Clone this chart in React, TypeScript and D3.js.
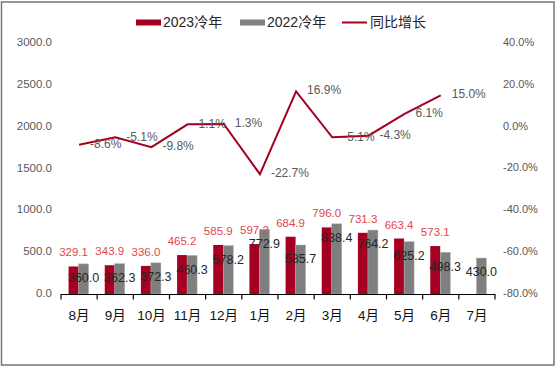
import React from 'react';
import * as d3 from 'd3';

const months = ['8月', '9月', '10月', '11月', '12月', '1月', '2月', '3月', '4月', '5月', '6月', '7月'];
const vol2023: (number | null)[] = [329.1, 343.9, 336.0, 465.2, 585.9, 597.2, 684.9, 796.0, 731.3, 663.4, 573.1, null];
const vol2022: number[] = [360.0, 362.3, 372.3, 460.3, 578.2, 772.9, 585.7, 838.4, 764.2, 625.2, 498.3, 430.0];
const yoy: (number | null)[] = [-8.6, -5.1, -9.8, 1.1, 1.3, -22.7, 16.9, -5.1, -4.3, 6.1, 15.0, null];
const leftTicks = [0, 500, 1000, 1500, 2000, 2500, 3000];
const rightTicks = [-80, -60, -40, -20, 0, 20, 40];
const legendLabels = ['2023冷年', '2022冷年', '同比增长'];

const RED = '#a50021';
const GRAY = '#7f7f7f';
const LABEL_RED = '#e0474c';
const FONT = '"Liberation Sans", Arial, "Noto Sans CJK SC", sans-serif';

const fmt = (v: number) => d3.format('.1f')(v).replace('\u2212', '-');

export default function App() {
  const W = 559, H = 368;
  const x = d3.scaleBand<string>().domain(months).range([61, 495]).padding(0);
  const yL = d3.scaleLinear().domain([0, 3000]).range([294, 43]);
  const yR = d3.scaleLinear().domain([-80, 40]).range([294, 43]);
  const bw = 10;
  const cx = (m: string) => (x(m) as number) + x.bandwidth() / 2;

  const linePts = months
    .map((m, i) => ({ m, v: yoy[i] }))
    .filter(d => d.v !== null) as { m: string; v: number }[];
  const line = d3.line<{ m: string; v: number }>().x(d => cx(d.m)).y(d => yR(d.v));

  const boundaries = months.map(m => x(m) as number).concat([495]);

  return (
    <svg width={W} height={H} style={{ position: 'fixed', left: 0, top: 0 }} fontFamily={FONT}>
      <rect x={0} y={0} width={W} height={H} fill="#fff" />
      <rect x={1.5} y={2} width={552.5} height={363} fill="none" stroke="#767676" strokeWidth={1.5} />

      {/* legend */}
      <rect x={136} y={19.5} width={25} height={6} fill={RED} />
      <text x={163} y={23} fontSize={14} dominantBaseline="middle" fill="#262626">{legendLabels[0]}</text>
      <rect x={240} y={19.5} width={25} height={6} fill={GRAY} />
      <text x={267} y={23} fontSize={14} dominantBaseline="middle" fill="#262626">{legendLabels[1]}</text>
      <line x1={342} x2={367} y1={22.5} y2={22.5} stroke={RED} strokeWidth={2} />
      <text x={370} y={23} fontSize={14} dominantBaseline="middle" fill="#262626">{legendLabels[2]}</text>

      {/* left axis labels */}
      {leftTicks.map(t => (
        <text key={'l' + t} x={52} y={yL(t)} fontSize={11.5} textAnchor="end" dominantBaseline="middle" fill="#595959">
          {fmt(t)}
        </text>
      ))}
      {/* right axis labels */}
      {rightTicks.map(t => (
        <text key={'r' + t} x={503} y={yR(t)} fontSize={11} textAnchor="start" dominantBaseline="middle" fill="#595959">
          {fmt(t) + '%'}
        </text>
      ))}

      {/* bars */}
      {months.map((m, i) => {
        const c = cx(m);
        const v3 = vol2023[i];
        const v2 = vol2022[i];
        return (
          <g key={m}>
            {v3 !== null && (
              <rect x={c - bw - 0.5} y={yL(v3)} width={bw} height={yL(0) - yL(v3)} fill={RED} />
            )}
            <rect x={c - 0.5} y={yL(v2)} width={bw} height={yL(0) - yL(v2)} fill={GRAY} stroke="#b0b0b0" strokeWidth={0.5} />
          </g>
        );
      })}

      {/* x axis */}
      <line x1={61} x2={495} y1={294.5} y2={294.5} stroke="#000" strokeWidth={1.2} />
      {boundaries.map((b, i) => (
        <line key={'t' + i} x1={b} x2={b} y1={294} y2={299.5} stroke="#000" strokeWidth={1.2} />
      ))}
      {months.map(m => (
        <text key={'x' + m} x={cx(m)} y={316} fontSize={13.5} textAnchor="middle" dominantBaseline="middle" fill="#111">
          {m}
        </text>
      ))}

      {/* line */}
      <path d={line(linePts) || ''} fill="none" stroke={RED} strokeWidth={2} strokeLinejoin="miter" />

      {/* bar labels */}
      {months.map((m, i) => {
        const c = cx(m);
        const v3 = vol2023[i];
        const v2 = vol2022[i];
        return (
          <g key={'lab' + m}>
            {v3 !== null && (
              <text x={c - 5.5} y={yL(v3) - 13} fontSize={11.5} textAnchor="middle" dominantBaseline="middle" fill={LABEL_RED}>
                {fmt(v3)}
              </text>
            )}
            <text x={c + 4.5} y={yL(v2) + 15} fontSize={12.5} textAnchor="middle" dominantBaseline="middle" fill="#262626">
              {fmt(v2)}
            </text>
          </g>
        );
      })}

      {/* line labels */}
      {linePts.map(d => (
        <text key={'p' + d.m} x={cx(d.m) + 11} y={yR(d.v)} fontSize={12} textAnchor="start" dominantBaseline="middle" fill="#595959">
          {fmt(d.v) + '%'}
        </text>
      ))}
    </svg>
  );
}
